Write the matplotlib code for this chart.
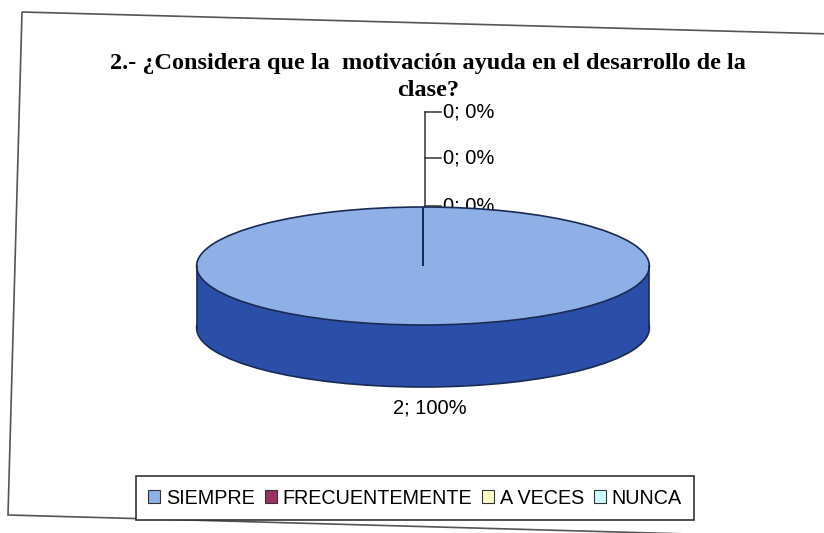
import matplotlib
matplotlib.use("Agg")
import matplotlib.pyplot as plt
from matplotlib.patches import Polygon, Rectangle

# chart data
categories = ["SIEMPRE", "FRECUENTEMENTE", "A VECES", "NUNCA"]
counts = [2, 0, 0, 0]
percents = ["100%", "0%", "0%", "0%"]
colors = ["#8eb0e6", "#993366", "#ffffcc", "#ccffff"]
side_color = "#2b4fa8"
title = "2.- ¿Considera que la  motivación ayuda en el desarrollo de la\nclase?"

W, H = 824, 533
fig = plt.figure(figsize=(W / 100, H / 100), dpi=100)

# background axes in pixel coords for frame + text
bg = fig.add_axes([0, 0, 1, 1])
bg.set_xlim(0, W)
bg.set_ylim(H, 0)
bg.axis("off")
bg.add_patch(Polygon([(22, 12), (832, 34), (832, 538), (8, 515)], closed=True,
                     fill=False, edgecolor="#555555", lw=1.2))
bg.text(428, 77, title, ha="center", va="center", fontsize=17.5, fontweight="bold",
        family="Liberation Serif", linespacing=1.32)

# pie axes: top ellipse x 196..650, y 207..325 px, depth ~62 px
ry_px = 59.0
depth = 62.0 / ry_px
ylo = -1 - depth - 0.05
yhi = 1.0
left = 196 / W
width = 454 / W
top_px = 207
bot_px = top_px + (yhi - ylo) * ry_px
pie_ax = fig.add_axes([left - 0.002, 1 - bot_px / H, width + 0.004, (bot_px - top_px) / H])

# side of the 3d pie: bottom ellipse + band
pie_ax.pie(counts, radius=1, center=(0, -depth), startangle=90, counterclock=False,
           colors=[side_color] * 4, wedgeprops=dict(edgecolor="#1a2a55", lw=1.2),
           frame=True)
pie_ax.add_patch(Rectangle((-1, -depth), 2, depth, facecolor=side_color, edgecolor="none"))
pie_ax.plot([-1, -1], [-depth, 0], color="#1a2a55", lw=1.2)
pie_ax.plot([1, 1], [-depth, 0], color="#1a2a55", lw=1.2)
wedges, _ = pie_ax.pie(counts, radius=1, center=(0, 0), startangle=90, counterclock=False,
                       colors=colors, wedgeprops=dict(edgecolor="#1a2a55", lw=1.2),
                       frame=True)
pie_ax.set_xlim(-1.01, 1.01)
pie_ax.set_ylim(ylo, yhi)
pie_ax.set_aspect("auto")
pie_ax.axis("off")

# data labels
cx, cy = 425, 268
label_ys = [408, 206, 158, 112]
bg.plot([cx, cx], [cy, label_ys[-1]], color="#333333", lw=1.1)
for i, (c, p) in enumerate(zip(counts, percents)):
    txt = f"{c}; {p}"
    if c == 0:
        y = label_ys[i]
        bg.plot([cx, 441], [y, y], color="#333333", lw=1.1)
        bg.text(443, y, txt, ha="left", va="center", fontsize=14.5, family="Liberation Sans")
    else:
        bg.text(430, label_ys[i], txt, ha="center", va="center", fontsize=14.5,
                family="Liberation Sans")

# legend
leg = fig.legend(wedges, categories, ncol=4, loc="center",
                 bbox_to_anchor=(415 / W, 1 - 498 / H),
                 prop=dict(family="Liberation Sans", size=14.2),
                 handlelength=0.6, handleheight=0.6, handletextpad=0.3,
                 columnspacing=0.5, borderpad=0.65, fancybox=False, framealpha=1,
                 edgecolor="#333333")
leg.get_frame().set_linewidth(1.2)
for h in leg.legend_handles:
    h.set_edgecolor("#333333")
    h.set_linewidth(0.8)

fig.savefig("out.png", dpi=100)
